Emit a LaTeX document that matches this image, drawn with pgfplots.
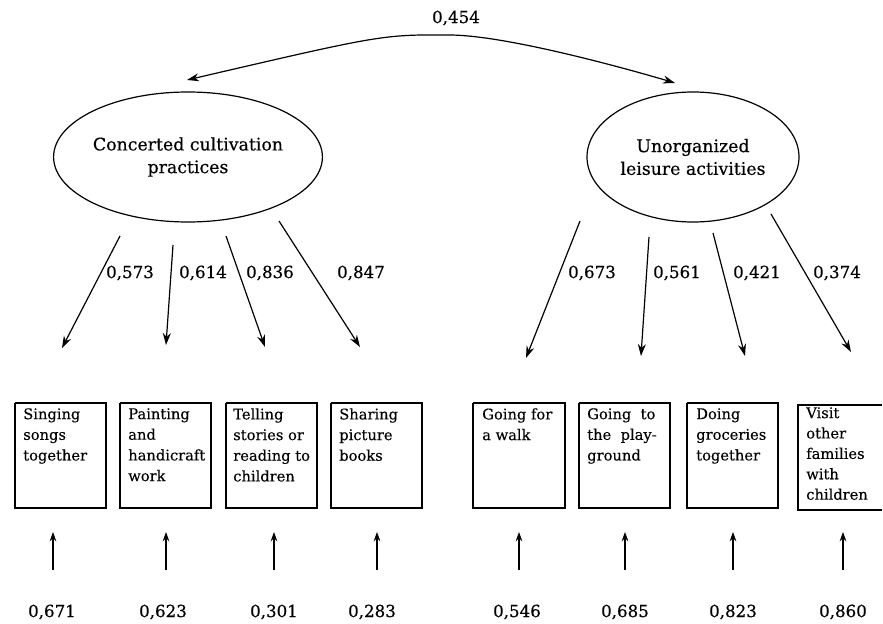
\documentclass[border=0pt]{standalone}
\usepackage{fontspec}
\setmainfont{DejaVu Serif}
\usepackage{pgfplots}
\pgfplotsset{compat=1.18}
\usetikzlibrary{arrows.meta,shapes.geometric}

\begin{document}
\begin{tikzpicture}[
    lbl/.style={font=\fontsize{12.5}{14}\selectfont\addfontfeature{FakeBold=0.4}, inner sep=0pt},
    itm/.style={anchor=north west, inner sep=0pt, align=left, font=\fontsize{11}{15.5}\selectfont\addfontfeature{FakeBold=0.2}},
    lat/.style={draw, ellipse, line width=0.9pt, minimum width=159pt, minimum height=97.5pt,
        inner sep=0pt, align=center, font=\fontsize{13}{17}\selectfont\addfontfeature{FakeBold=0.4}},
    ]
    \begin{axis}[
        scale only axis, width=662.25pt, height=468pt,
        xmin=0, xmax=883, ymin=0, ymax=624, y dir=reverse,
        axis lines=none, clip=false, no markers,
        every axis plot/.append style={black, line width=0.9pt},
        ]
        \addplot[draw=none] coordinates {(0,0) (883,624)};

        % correlation between the two latent factors
        \addplot[smooth, {Stealth[length=9pt,width=6pt]}-{Stealth[length=9pt,width=6pt]}] coordinates {
            (187,80) (450,35) (675,83)
        };
        \node[lbl] at (axis cs:456,18) {0,454};

        % latent factors
        \node[lat] at (axis cs:188,157) {Concerted cultivation\\practices};
        \node[lat] at (axis cs:693,157) {Unorganized\\leisure activities};

        % loadings
        \addplot[-{Stealth[length=9pt,width=6pt]}] coordinates {(120,236) (62,348)};
        \addplot[-{Stealth[length=9pt,width=6pt]}] coordinates {(173,245) (166,345)};
        \addplot[-{Stealth[length=9pt,width=6pt]}] coordinates {(226,236) (265,347)};
        \addplot[-{Stealth[length=9pt,width=6pt]}] coordinates {(279,221) (360,347)};
        \addplot[-{Stealth[length=9pt,width=6pt]}] coordinates {(580,221) (526,358)};
        \addplot[-{Stealth[length=9pt,width=6pt]}] coordinates {(649,237) (641,356)};
        \addplot[-{Stealth[length=9pt,width=6pt]}] coordinates {(713,233) (745,356)};
        \addplot[-{Stealth[length=9pt,width=6pt]}] coordinates {(771,214) (851,352)};

        \node[lbl] at (axis cs:130,273) {0,573};
        \node[lbl] at (axis cs:203,273) {0,614};
        \node[lbl] at (axis cs:270,273) {0,836};
        \node[lbl] at (axis cs:361,273) {0,847};
        \node[lbl] at (axis cs:592,273) {0,673};
        \node[lbl] at (axis cs:677,273) {0,561};
        \node[lbl] at (axis cs:757,273) {0,421};
        \node[lbl] at (axis cs:837,273) {0,374};

        % observed items
        \addplot[line width=1.1pt] coordinates {(15,403) (106,403) (106,508) (15,508) (15,403)};
        \addplot[line width=1.1pt] coordinates {(120,403) (211,403) (211,508) (120,508) (120,403)};
        \addplot[line width=1.1pt] coordinates {(226,403) (317,403) (317,508) (226,508) (226,403)};
        \addplot[line width=1.1pt] coordinates {(331,403) (422,403) (422,508) (331,508) (331,403)};
        \addplot[line width=1.1pt] coordinates {(473,403) (565,403) (565,508) (473,508) (473,403)};
        \addplot[line width=1.1pt] coordinates {(579,403) (670,403) (670,508) (579,508) (579,403)};
        \addplot[line width=1.1pt] coordinates {(687,403) (778,403) (778,508) (687,508) (687,403)};
        \addplot[line width=1.1pt] coordinates {(882,405) (798,405) (798,510) (882,510)};

        \node[itm] at (axis cs:23,408) {Singing\\songs\\together};
        \node[itm] at (axis cs:128,408) {Painting\\and\\handicraft\\work};
        \node[itm] at (axis cs:233,408) {Telling\\stories or\\reading to\\children};
        \node[itm] at (axis cs:339,408) {Sharing\\picture\\books};
        \node[itm] at (axis cs:482,408) {Going for\\a walk};
        \node[itm] at (axis cs:587,408) {Going\ \ to\\the\ \ play-\\ground};
        \node[itm] at (axis cs:696,408) {Doing\\groceries\\together};
        \node[itm, font=\fontsize{11}{15.3}\selectfont\addfontfeature{FakeBold=0.2}] at (axis cs:806,407) {Visit\\other\\families\\with\\children};

        % residuals
        \addplot[-{Stealth[length=7pt,width=5pt]}] coordinates {(53,570) (53,532)};
        \addplot[-{Stealth[length=7pt,width=5pt]}] coordinates {(166,570) (166,532)};
        \addplot[-{Stealth[length=7pt,width=5pt]}] coordinates {(274,570) (274,532)};
        \addplot[-{Stealth[length=7pt,width=5pt]}] coordinates {(377,570) (377,532)};
        \addplot[-{Stealth[length=7pt,width=5pt]}] coordinates {(519,570) (519,532)};
        \addplot[-{Stealth[length=7pt,width=5pt]}] coordinates {(625,570) (625,532)};
        \addplot[-{Stealth[length=7pt,width=5pt]}] coordinates {(733,570) (733,532)};
        \addplot[-{Stealth[length=7pt,width=5pt]}] coordinates {(843,570) (843,532)};

        \node[lbl] at (axis cs:52,612) {0,671};
        \node[lbl] at (axis cs:163,612) {0,623};
        \node[lbl] at (axis cs:274,612) {0,301};
        \node[lbl] at (axis cs:372,612) {0,283};
        \node[lbl] at (axis cs:517,612) {0,546};
        \node[lbl] at (axis cs:625,612) {0,685};
        \node[lbl] at (axis cs:733,612) {0,823};
        \node[lbl] at (axis cs:843,612) {0,860};
    \end{axis}
\end{tikzpicture}
\end{document}
